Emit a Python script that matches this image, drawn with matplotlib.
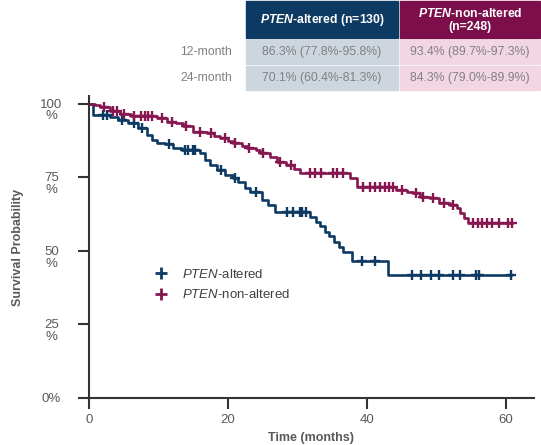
import numpy as np
import matplotlib
matplotlib.use("Agg")
import matplotlib.pyplot as plt
import matplotlib.transforms as mtransforms
from matplotlib.patches import Rectangle
from matplotlib.lines import Line2D

plt.rcParams['font.family'] = ['Liberation Sans', 'DejaVu Sans']
plt.rcParams['mathtext.fontset'] = 'custom'
plt.rcParams['mathtext.rm'] = 'Liberation Sans'
plt.rcParams['mathtext.it'] = 'Liberation Sans:italic'
plt.rcParams['mathtext.bf'] = 'Liberation Sans:bold'
plt.rcParams['mathtext.bfit'] = 'Liberation Sans:italic:bold'

# Kaplan-Meier steps: (time of event, survival after it)
alt_t = [0.6, 3.0, 4.2, 5.6, 7.0, 8.3, 9.0, 9.8, 10.9, 12.1, 13.4, 16.0, 16.7, 17.4,
         18.4, 19.5, 20.7, 21.5, 22.4, 23.2, 24.9, 25.7, 26.7, 31.8, 32.6, 33.2, 34.0,
         34.5, 35.3, 36.0, 36.6, 37.8, 43.0]
alt_s = [96.3, 95.7, 94.6, 93.4, 91.7, 89.5, 87.8, 86.6, 86.3, 84.9, 84.4, 83.2, 81.0, 79.3,
         77.6, 75.9, 74.7, 73.6, 71.3, 70.1, 67.3, 65.6, 63.2, 61.6, 60.0, 58.5, 56.5,
         55.0, 53.0, 51.3, 49.5, 46.6, 41.8]
alt_cens = [2.0, 2.6, 4.8, 6.5, 7.6, 11.5, 13.8, 14.3, 15.0, 15.3, 19.0, 21.0, 24.0, 28.5,
            29.3, 30.3, 30.7, 31.2, 39.2, 41.1, 46.4, 47.8, 49.2, 50.4, 52.3, 53.3, 55.6,
            56.1, 60.7]
alt_end = 60.7

non_t = [0.8, 1.6, 3.0, 4.5, 6.0, 9.8, 11.2, 12.5, 13.5, 15.0, 16.9, 18.0, 18.8, 20.0,
         20.7, 22.0, 22.7, 24.0, 24.6, 26.0, 27.0, 28.4, 29.5, 30.3, 37.5, 38.5, 44.2,
         45.7, 46.6, 47.6, 49.0, 50.4, 51.9, 52.9, 53.3, 54.0, 54.5]
non_s = [99.5, 99.1, 97.7, 96.6, 95.9, 95.1, 94.0, 93.4, 92.5, 90.6, 90.1, 89.2, 88.4, 87.5,
         86.7, 85.8, 85.0, 84.3, 83.3, 82.0, 80.4, 79.3, 77.8, 76.4, 74.7, 71.9, 70.7,
         70.2, 69.6, 68.5, 67.9, 66.2, 65.6, 64.5, 62.8, 61.1, 59.4]
non_cens = [2.2, 3.5, 4.0, 5.0, 6.5, 7.5, 8.0, 8.5, 9.0, 10.5, 12.0, 14.0, 16.0, 17.5,
            19.5, 21.0, 23.0, 25.0, 27.5, 29.0, 31.8, 32.5, 33.4, 35.1, 35.6, 36.5, 39.4,
            40.4, 41.1, 41.8, 42.5, 43.2, 43.7, 45.0, 47.0, 48.0, 49.5, 51.0, 52.3, 55.2,
            55.9, 56.5, 57.2, 57.9, 59.0, 60.2, 60.9]
non_end = 60.9

# table
col_heads = [r'$\mathbfit{PTEN}$-altered (n=130)', r'$\mathbfit{PTEN}$-non-altered' + '\n(n=248)']
row_heads = ['12-month', '24-month']
cells = [['86.3% (77.8%-95.8%)', '93.4% (89.7%-97.3%)'],
         ['70.1% (60.4%-81.3%)', '84.3% (79.0%-89.9%)']]

BLUE = '#0d3a63'
MAG = '#86164f'
GRAY = '#595959'

W, H = 541, 445
fig = plt.figure(figsize=(W / 100, H / 100), dpi=100)


def fx(px):
    return px / W


def fy(py):
    return 1 - py / H


ax = fig.add_axes([fx(89), fy(398), fx(534) - fx(89), fy(96) - fy(398)])


def km(ax, t, s, cens, end, color):
    tt = np.r_[0, t, end]
    ss = np.r_[100, s, s[-1]]
    ax.step(tt, ss, where='post', color=color, lw=1.9)
    idx = np.searchsorted(t, cens, side='right')
    cy = np.r_[100, s][idx]
    ax.plot(cens, cy, ls='none', marker='+', ms=6.5, mew=1.7, color=color)


km(ax, alt_t, alt_s, alt_cens, alt_end, BLUE)
km(ax, non_t, non_s, non_cens, non_end, MAG)

ax.set_xlim(0, 64)
ax.set_ylim(0, 102.7)
ax.set_xticks([0, 20, 40, 60])
ax.set_yticks([0, 25, 50, 75, 100])
ax.set_yticklabels(['0%', '25\n%', '50\n%', '75\n%', '100\n%'])
for sp in ['top', 'right']:
    ax.spines[sp].set_visible(False)
for sp in ['left', 'bottom']:
    ax.spines[sp].set_color('#333333')
    ax.spines[sp].set_linewidth(1.5)
ax.tick_params(length=8, width=1.5, color='#333333', labelcolor=GRAY, labelsize=9.5)
ax.tick_params(axis='y', pad=19)
up = mtransforms.ScaledTranslation(0, 5 / 100, fig.dpi_scale_trans)
for lab in ax.get_yticklabels():
    lab.set_horizontalalignment('center')
    lab.set_linespacing(0.95)
    if '\n' in lab.get_text():
        lab.set_verticalalignment('top')
        lab.set_transform(lab.get_transform() + up)
ax.set_xlabel('Time (months)', fontweight='bold', color=GRAY, fontsize=9, labelpad=4)
ax.set_ylabel('Survival Probability', fontweight='bold', color=GRAY, fontsize=9, labelpad=12)

handles = [Line2D([], [], ls='none', marker='+', ms=8, mew=2, color=BLUE),
           Line2D([], [], ls='none', marker='+', ms=8, mew=2, color=MAG)]
ax.legend(handles, [r'$\mathit{PTEN}$-altered', r'$\mathit{PTEN}$-non-altered'],
          loc='upper left', bbox_to_anchor=(0.105, 0.47), frameon=False,
          fontsize=9.5, labelcolor='#404040', handletextpad=0.6, labelspacing=0.55)

# table
col_x = [(246, 398), (400, 540)]
head_col = [BLUE, '#7c0f4b']
cell_col = ['#cdd6df', '#f3d6e3']
row_y = [(40, 64), (66, 90)]
for j, (x0, x1) in enumerate(col_x):
    fig.patches.append(Rectangle((fx(x0), fy(38)), fx(x1 - x0), 37 / H,
                                 transform=fig.transFigure, color=head_col[j]))
    fig.text(fx((x0 + x1) / 2), fy(20), col_heads[j], color='white', fontweight='bold',
             fontsize=8.8, ha='center', va='center', linespacing=1.1)
    for i, (y0, y1) in enumerate(row_y):
        fig.patches.append(Rectangle((fx(x0), fy(y1)), fx(x1 - x0), (y1 - y0) / H,
                                     transform=fig.transFigure, color=cell_col[j]))
        fig.text(fx((x0 + x1) / 2), fy((y0 + y1) / 2), cells[i][j], color='#808080',
                 fontsize=8.8, ha='center', va='center')
for i, (y0, y1) in enumerate(row_y):
    fig.text(fx(232), fy((y0 + y1) / 2), row_heads[i], color='#808080', fontsize=8.8,
             ha='right', va='center')

fig.savefig('out.png', dpi=100)
